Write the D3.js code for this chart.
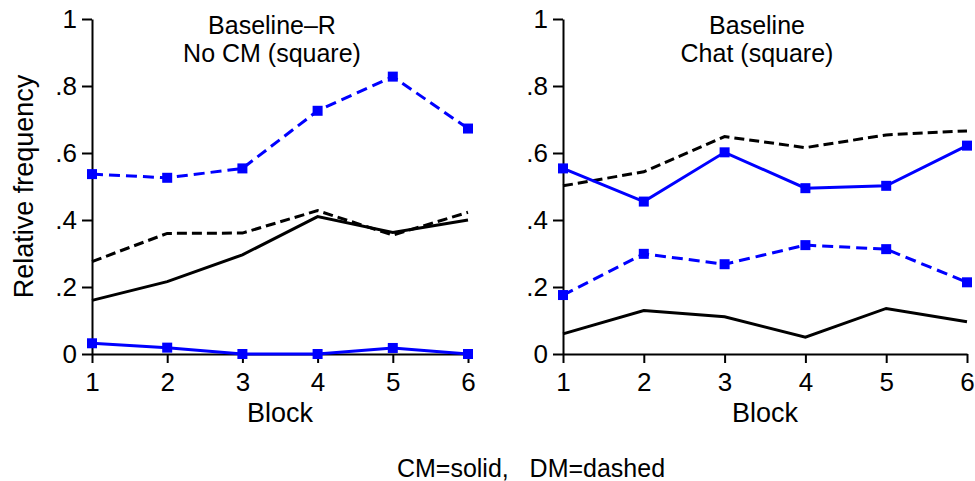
<!DOCTYPE html>
<html>
<head>
<meta charset="utf-8">
<script src="https://cdn.jsdelivr.net/npm/d3@7"></script>
<style>
    body { margin: 0; background: #fff; }
    text { font-family: "Liberation Sans", Arial, sans-serif; fill: #000; }
</style>
</head>
<body>
<script>
// Données
const blocks = [1, 2, 3, 4, 5, 6];
const yTicks = [0, 0.2, 0.4, 0.6, 0.8, 1];
const yTickLabels = ["0", ".2", ".4", ".6", ".8", "1"];

const leftTitle = ["Baseline\u2013R", "No CM (square)"];
const rightTitle = ["Baseline", "Chat (square)"];

// Panneau gauche : Baseline-R, No CM
const leftBlackCM = [0.160, 0.216, 0.296, 0.410, 0.363, 0.400];
const leftBlackDM = [0.276, 0.360, 0.361, 0.428, 0.355, 0.423];
const leftBlueCM = [0.032, 0.019, 0.000, 0.000, 0.018, 0.000];
const leftBlueDM = [0.537, 0.526, 0.554, 0.726, 0.828, 0.673];

// Panneau droit : Baseline, Chat
const rightBlackCM = [0.060, 0.130, 0.111, 0.050, 0.136, 0.096];
const rightBlackDM = [0.502, 0.544, 0.649, 0.616, 0.654, 0.666];
const rightBlueCM = [0.554, 0.455, 0.602, 0.495, 0.502, 0.622];
const rightBlueDM = [0.176, 0.299, 0.268, 0.325, 0.313, 0.214];

const note = "CM=solid,\u00a0\u00a0\u00a0DM=dashed";

const width = 975;
const height = 481;
const blue = "#0000ff";

const svg = d3.select("body").append("svg").attr("width", width).attr("height", height);

const y = d3.scaleLinear().domain([0, 1]).range([354, 19]);

drawPanel([92, 468], leftTitle, [leftBlackCM, leftBlackDM, leftBlueCM, leftBlueDM], true);
drawPanel([563, 967], rightTitle, [rightBlackCM, rightBlackDM, rightBlueCM, rightBlueDM], false);

svg.append("text")
    .attr("x", 531)
    .attr("y", 477)
    .attr("text-anchor", "middle")
    .style("font-size", "25px")
    .text(note);

function drawPanel(xRange, title, series, withYLabel) {
    const x = d3.scaleLinear().domain([1, 6]).range(xRange);
    const g = svg.append("g");
    const cx = (xRange[0] + xRange[1]) / 2;

    // Axe Y
    const yAxis = g.append("g")
        .attr("transform", `translate(${xRange[0]},0)`)
        .call(d3.axisLeft(y)
            .tickValues(yTicks)
            .tickFormat((d, i) => yTickLabels[i])
            .tickSize(10)
            .tickSizeOuter(0)
            .tickPadding(5));
    styleAxis(yAxis);

    // Axe X
    const xAxis = g.append("g")
        .attr("transform", `translate(0,${y(0)})`)
        .call(d3.axisBottom(x)
            .tickValues(blocks)
            .tickFormat(d3.format("d"))
            .tickSize(9)
            .tickSizeOuter(0)
            .tickPadding(10));
    styleAxis(xAxis);

    // Titre du panneau (deux lignes)
    title.forEach((t, i) => {
        g.append("text")
            .attr("x", cx - 8)
            .attr("y", 34 + i * 28)
            .attr("text-anchor", "middle")
            .style("font-size", "25px")
            .text(t);
    });

    g.append("text")
        .attr("x", cx)
        .attr("y", 422)
        .attr("text-anchor", "middle")
        .style("font-size", "27px")
        .text("Block");

    if (withYLabel) {
        g.append("text")
            .attr("transform", `translate(33,${(y(0) + y(1)) / 2}) rotate(-90)`)
            .attr("text-anchor", "middle")
            .style("font-size", "27px")
            .text("Relative frequency");
    }

    const [blackCM, blackDM, blueCM, blueDM] = series;
    drawLine(g, x, blackCM, "#000", null, false);
    drawLine(g, x, blackDM, "#000", "10,5", false);
    drawLine(g, x, blueCM, blue, null, true);
    drawLine(g, x, blueDM, blue, "11,6", true);
}

function styleAxis(axis) {
    axis.select(".domain").style("stroke", "#000").style("stroke-width", 2);
    axis.selectAll(".tick line").style("stroke", "#000").style("stroke-width", 2);
    axis.selectAll(".tick text")
        .style("font-size", "26px")
        .style("font-family", "'Liberation Sans', Arial, sans-serif")
        .style("fill", "#000");
}

function drawLine(g, x, values, color, dash, markers) {
    const line = d3.line()
        .x((d, i) => x(blocks[i]))
        .y((d) => y(d));

    g.append("path")
        .datum(values)
        .attr("d", line)
        .style("fill", "none")
        .style("stroke", color)
        .style("stroke-width", 3)
        .style("stroke-dasharray", dash);

    if (markers) {
        g.selectAll(null)
            .data(values)
            .enter()
            .append("rect")
            .attr("x", (d, i) => x(blocks[i]) - 5)
            .attr("y", (d) => y(d) - 5)
            .attr("width", 10)
            .attr("height", 10)
            .style("fill", color);
    }
}
</script>
</body>
</html>
